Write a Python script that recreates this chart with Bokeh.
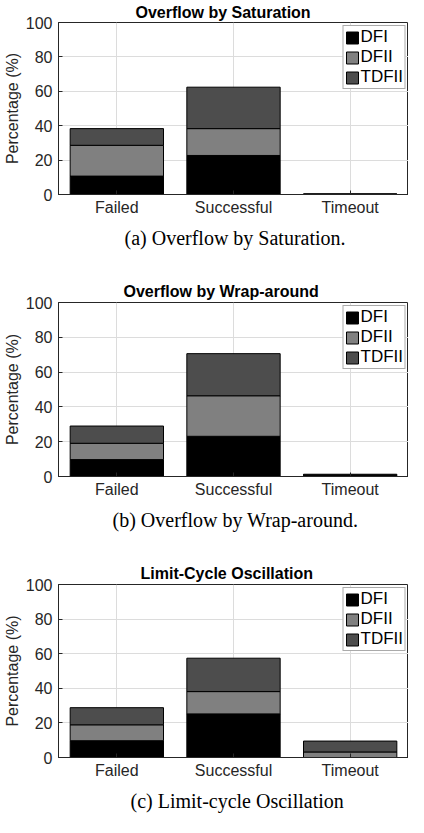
from bokeh.plotting import figure
from bokeh.models import Range1d, FactorRange, Title
from bokeh.layouts import column
from bokeh.embed import file_html
from bokeh.resources import INLINE

categories = ["Failed", "Successful", "Timeout"]
series = ["DFI", "DFII", "TDFII"]
colors = ["#000000", "#808080", "#4d4d4d"]
y_ticks = [0, 20, 40, 60, 80, 100]

sat_dfi = [10.7, 22.7, 0.1]
sat_dfii = [17.9, 15.6, 0.1]
sat_tdfii = [9.7, 24.1, 0.1]

wrap_dfi = [9.7, 23.1, 0.4]
wrap_dfii = [9.4, 23.3, 0.4]
wrap_tdfii = [9.9, 24.2, 0.5]

lco_dfi = [9.7, 25.2, 0.0]
lco_dfii = [9.2, 12.9, 3.2]
lco_tdfii = [9.9, 19.3, 6.3]

titles = ["Overflow by Saturation", "Overflow by Wrap-around", "Limit-Cycle Oscillation"]
captions = ["(a) Overflow by Saturation.", "(b) Overflow by Wrap-around.", "(c) Limit-cycle Oscillation"]

AX = "#262626"
SANS = "Liberation Sans"
SERIF = "Liberation Serif"


def make(title, caption, dfi, dfii, tdfii, height, border_bottom, title_standoff,
         title_left, caption_left):
    data = dict(cat=categories, DFI=dfi, DFII=dfii, TDFII=tdfii)
    p = figure(x_range=FactorRange(*categories), y_range=Range1d(0, 100),
               width=408, height=height, output_backend="svg", toolbar_location=None,
               min_border_left=52, min_border_right=0, min_border_top=0,
               min_border_bottom=border_bottom)
    p.vbar_stack(series, x="cat", width=0.8, source=data, fill_color=colors,
                 line_color="#000000", line_width=1, legend_label=series)
    p.add_layout(Title(text=title, text_font=SANS, text_font_size="16px", text_font_style="bold",
                       text_color="#000000", align="left", offset=title_left,
                       standoff=title_standoff), "above")
    p.add_layout(Title(text=caption, text_font=SERIF, text_font_size="20px", text_font_style="normal",
                       text_color="#000000", align="left", offset=caption_left, standoff=12), "below")
    p.outline_line_color = AX
    p.outline_line_width = 1
    p.background_fill_color = "white"
    p.border_fill_color = "white"

    p.yaxis.ticker = y_ticks
    p.yaxis.axis_label = "Percentage (%)"
    p.yaxis.axis_label_text_font = SANS
    p.yaxis.axis_label_text_font_size = "16px"
    p.yaxis.axis_label_text_font_style = "normal"
    p.yaxis.axis_label_text_color = AX
    p.yaxis.axis_label_standoff = 2
    for ax in (p.xaxis[0], p.yaxis[0]):
        ax.axis_line_color = AX
        ax.major_tick_line_color = AX
        ax.major_tick_in = 4
        ax.major_tick_out = 0
        ax.minor_tick_in = 0
        ax.minor_tick_out = 0
        ax.major_label_text_font = SANS
        ax.major_label_text_font_size = "16px"
        ax.major_label_text_color = AX
    p.yaxis.major_label_standoff = 6
    p.xaxis.major_label_standoff = 4

    p.xgrid.grid_line_color = "#dcdcdc"
    p.ygrid.grid_line_color = "#dcdcdc"

    lg = p.legend[0]
    lg.location = "top_right"
    lg.margin = 3
    lg.padding = 1
    lg.spacing = 0
    lg.glyph_width = 15
    lg.glyph_height = 15
    lg.label_height = 19
    lg.label_standoff = 1
    lg.label_text_font = SANS
    lg.label_text_font_size = "17px"
    lg.label_text_color = "#000000"
    lg.border_line_color = "#555555"
    lg.border_line_width = 1
    lg.background_fill_alpha = 1.0
    return p


p1 = make(titles[0], captions[0], sat_dfi, sat_dfii, sat_tdfii, 278, 84, 3, 77, 66)
p2 = make(titles[1], captions[1], wrap_dfi, wrap_dfii, wrap_tdfii, 282, 84, 5, 65, 54)
p3 = make(titles[2], captions[2], lco_dfi, lco_dfii, lco_tdfii, 257, 0, 5, 82, 72)

layout = column(p1, p2, p3, spacing=0)
open("out.html", "w").write(file_html(layout, INLINE))
